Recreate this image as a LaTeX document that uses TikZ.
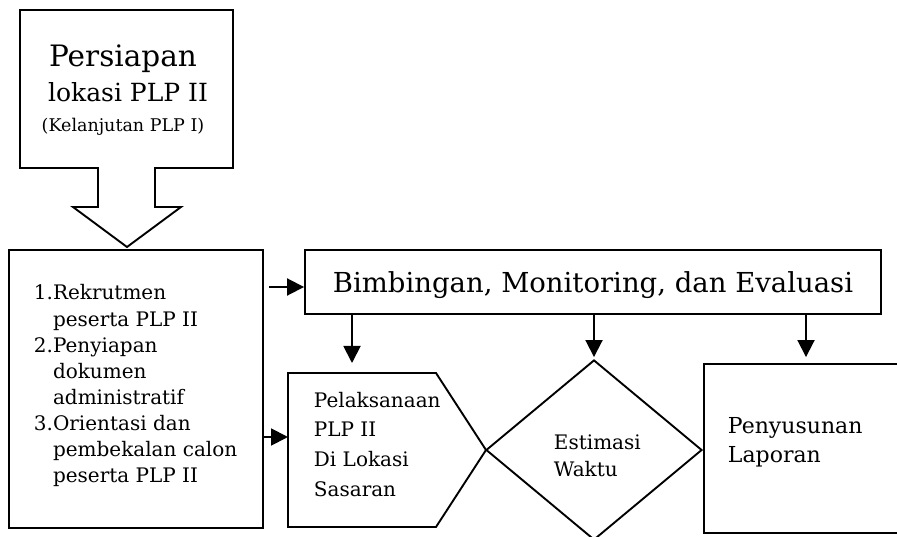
\documentclass[tikz,border=0pt]{standalone}
\usepackage{fontspec}
\setmainfont{DejaVu Serif}
\usetikzlibrary{arrows.meta,shapes.geometric,calc}
\begin{document}
\begin{tikzpicture}[x=1pt,y=-1pt,line width=1.9pt,line join=miter,
  box/.style={draw,rectangle,inner sep=0pt},
  arr/.style={-{Triangle[length=17pt,width=17pt]}},
  txt/.style={inner sep=0pt,anchor=base west},
  ctxt/.style={inner sep=0pt,anchor=base}]
\useasboundingbox (0,0) rectangle (897,537);
\clip (0,0) rectangle (897,537);
\fill[white] (0,0) rectangle (897,537);

% top block arrow
\draw (20,10) -- (233,10) -- (233,168) -- (155,168) -- (155,207) -- (181,207)
  -- (127,247) -- (73,207) -- (98,207) -- (98,168) -- (20,168) -- cycle;
\node[ctxt] (t1) at (123,67) {\fontsize{29.5}{32}\selectfont Persiapan};
\node[ctxt] (t2) at (128,102) {\fontsize{25}{28}\selectfont lokasi PLP II};
\node[ctxt] (t3) at (123,132) {\fontsize{17.5}{20}\selectfont (Kelanjutan PLP I)};

% left box
\node[box,minimum width=254pt,minimum height=278pt] (prep) at (136,389) {};
\node[txt] (preptxt) at (33,300) {\fontsize{20}{26.1}\selectfont
  \begin{tabular}[t]{@{}l@{}}
  1.Rekrutmen\\
  \phantom{1.}peserta PLP II\\
  2.Penyiapan\\
  \phantom{2.}dokumen\\
  \phantom{2.}administratif\\
  3.Orientasi dan\\
  \phantom{3.}pembekalan calon\\
  \phantom{3.}peserta PLP II
  \end{tabular}};

% BME box
\node[box,minimum width=576pt,minimum height=64pt] (bme) at (593,282) {};
\node[ctxt] (bmetxt) at (593,293) {\fontsize{27.5}{30}\selectfont Bimbingan, Monitoring, dan Evaluasi};

% Pelaksanaan pentagon
\draw (288,373) -- (436,373) -- (486,450) -- (436,527) -- (288,527) -- cycle;
\coordinate (pelW) at (288,437);
\coordinate (pelN) at (352,373);
\node[txt] (peltxt) at (313,407) {\fontsize{20}{29.7}\selectfont
  \begin{tabular}[t]{@{}l@{}}
  Pelaksanaan\\
  PLP II\\
  Di Lokasi\\
  Sasaran
  \end{tabular}};

% diamond
\node[draw,diamond,minimum width=216pt,minimum height=180pt,inner sep=0pt] (est) at (594,450) {};
\node[txt] (esttxt) at (553,449) {\fontsize{20}{27}\selectfont
  \begin{tabular}[t]{@{}l@{}}
  Estimasi\\
  Waktu
  \end{tabular}};

% Penyusunan box (extends beyond right edge)
\node[box,minimum width=204pt,minimum height=169pt] (lap) at (806,448.5) {};
\node[txt] (laptxt) at (727,433) {\fontsize{22}{29}\selectfont
  \begin{tabular}[t]{@{}l@{}}
  Penyusunan\\
  Laporan
  \end{tabular}};

% connectors
\coordinate (a1) at (269,287);
\draw[arr] (a1) -- (a1 -| bme.west);
\draw[arr] (prep.east |- pelW) -- (pelW);
\draw[arr,shorten >=10pt] (pelN |- bme.south) -- (pelN);
\draw[arr,shorten >=2pt] (est.north |- bme.south) -- (est.north);
\draw[arr,shorten >=6pt] (lap.north |- bme.south) -- (lap.north);
\end{tikzpicture}
\end{document}
